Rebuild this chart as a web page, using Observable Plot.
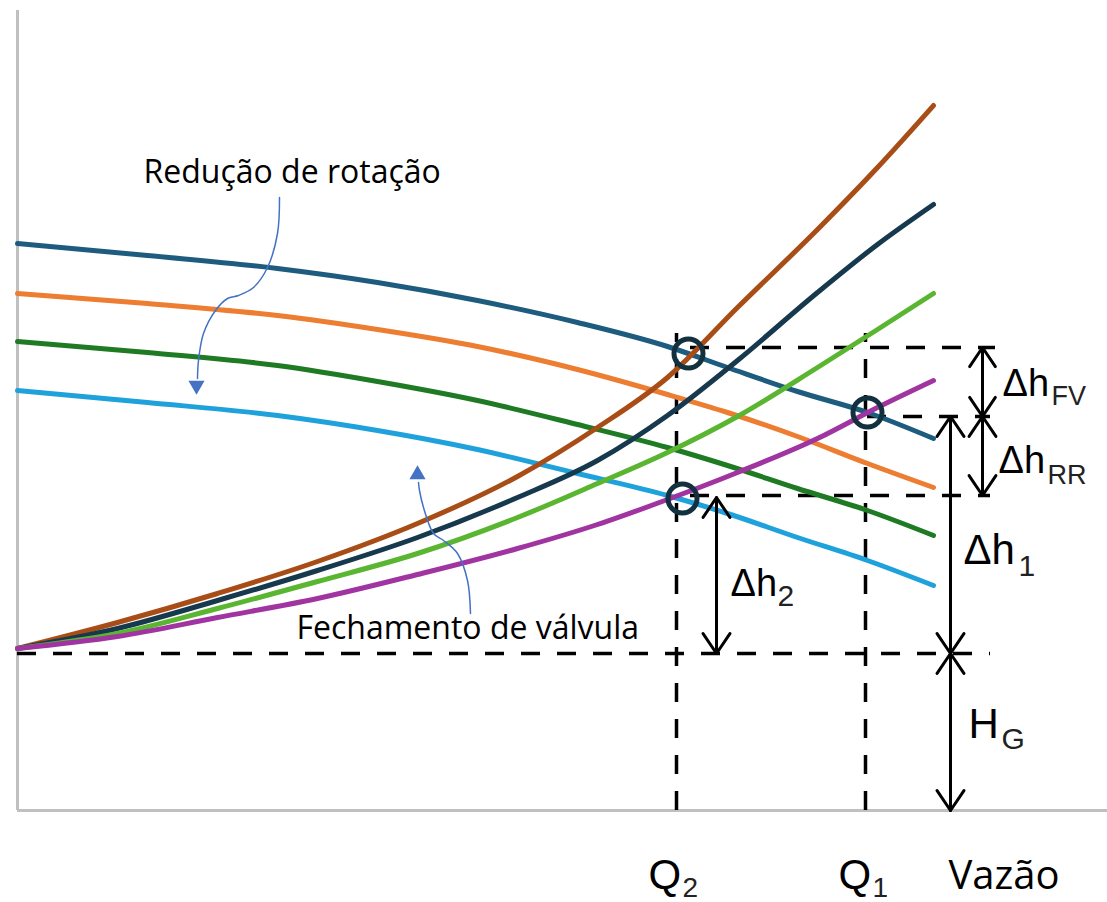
<!DOCTYPE html>
<html><head><meta charset="utf-8">
<script src="https://cdn.jsdelivr.net/npm/d3@7"></script>
<script src="https://cdn.jsdelivr.net/npm/@observablehq/plot@0.6"></script>
<style>
html,body{margin:0;padding:0;background:#fff;}
#chart svg{display:block;}
</style></head><body><div id="chart"></div>
<script>
// ---- pump curves (head vs flow)
const pumpQ      = [0, 13, 26, 36, 46, 56, 65, 71, 78, 85, 91.6];
const pumpTeal   = [56.7, 55.5, 54.2, 52.8, 51.0, 48.8, 46.4, 44.3, 41.9, 39.8, 37.2];
const pumpOrange = [51.7, 50.7, 49.5, 48.1, 46.4, 44.1, 41.6, 39.8, 37.4, 34.7, 32.3];
const pumpGreen  = [46.9, 45.8, 44.5, 42.9, 41.0, 38.6, 36.3, 34.5, 32.2, 30.0, 27.5];
const pumpBlue   = [42.0, 40.8, 39.5, 38.0, 36.1, 33.7, 31.5, 29.7, 27.3, 25.0, 22.5];
// ---- system curves
const sysQ       = [0, 10, 20, 30, 40, 50, 58, 65, 72, 80, 86, 91.6];
const sysBrown   = [16.2, 18.8, 21.7, 24.9, 28.7, 33.4, 38.3, 43.3, 50.3, 58.1, 64.3, 70.5];
const sysNavy    = [16.2, 18.2, 21.0, 24.0, 27.3, 31.3, 35.0, 39.5, 45.0, 51.8, 56.6, 60.6];
const sysGreen   = [16.2, 17.7, 20.2, 22.9, 25.7, 29.3, 32.7, 35.8, 39.4, 44.3, 48.1, 51.7];
const sysMagenta = [16.2, 17.4, 19.3, 21.2, 23.6, 26.2, 28.6, 31.1, 33.8, 37.2, 40.3, 43.0];
// ---- operating points
const opQ = [67.1, 85.0, 66.5];
const opH = [45.7, 39.8, 31.2];
// ---- reference flows and heads
const Q2 = 65.9, Q1 = 84.8;
const hTop = 46.3, hMid = 39.4, hLow = 31.5, HG = 15.7, hDashTop = 47.7;
// ---- dimension arrows
const dimQ  = [96.5, 96.5, 93.3, 93.3, 69.9];
const dimH1 = [46.3, 39.4, 39.4, 15.7, 31.3];
const dimH2 = [39.4, 31.5, 15.7, 0, 15.7];
// ---- annotation connector paths
const rotQ = [26.2, 26.0, 25.0, 23.6, 22.1, 21.0, 19.8, 18.6, 18.1, 18.0];
const rotH = [61.3, 57.7, 54.3, 52.3, 51.5, 51.2, 50.0, 47.7, 45.0, 43.2];
const valQ = [45.3, 45.0, 44.0, 42.6, 41.6, 40.6, 40.2, 40.1];
const valH = [19.7, 23.0, 25.7, 27.0, 27.7, 30.3, 32.0, 32.8];
// ---- labels
const deltaText = ["Δh", "Δh", "Δh", "Δh"];
const deltaQ = [98.5, 98.1, 94.6, 71.3];
const deltaH = [41.5, 33.8, 24.7, 21.5];
const subText = ["FV", "RR", "1", "2"];
const subQ = [103.4, 103.0, 100.1, 76.0];
const subH = [40.6, 32.7, 23.5, 20.5];
const axisLetters = ["H", "Q", "Q"];
const axisLetterQ = [95.1, 63.1, 82.1];
const axisLetterH = [7.3, -7.8, -7.8];
const axisSubs = ["G", "2", "1"];
const axisSubQ = [98.4, 66.5, 85.5];
const axisSubH = [6.2, -8.6, -8.6];
const noteText = ["Redução de rotação", "Fechamento de válvula", "Vazão"];
const noteQ = [12.6, 27.9, 93.1];
const noteH = [62.8, 17.2, -7.8];

const pumpSeries = [["teal", pumpTeal], ["orange", pumpOrange], ["green", pumpGreen], ["blue", pumpBlue]]
  .flatMap(([k, hs]) => hs.map((h, i) => ({k, q: pumpQ[i], h})));
const sysSeries = [["brown", sysBrown], ["navy", sysNavy], ["lgreen", sysGreen], ["magenta", sysMagenta]]
  .flatMap(([k, hs]) => hs.map((h, i) => ({k, q: sysQ[i], h})));
const colors = {teal: "#1d5c7f", orange: "#ed7d31", green: "#1f7a24", blue: "#1fa2dc",
  brown: "#a94d17", navy: "#17394d", lgreen: "#5ab531", magenta: "#a034a0"};
const idx = a => a.map((_, i) => i);
const dash = {stroke: "black", strokeWidth: 3.5, strokeDasharray: "19,17"};

const plot = Plot.plot({
  width: 1107, height: 902,
  marginLeft: 17, marginRight: 0, marginTop: 10, marginBottom: 92,
  x: {domain: [0, 109], axis: null},
  y: {domain: [0, 80], axis: null},
  style: {background: "white", overflow: "visible", fontFamily: "Liberation Sans"},
  marks: [
    Plot.ruleY([0], {stroke: "#c0c0c0", strokeWidth: 3}),
    Plot.ruleX([0], {stroke: "#c0c0c0", strokeWidth: 3}),
    // dashed guides
    Plot.ruleY([HG], {x1: 0, x2: 97.3, ...dash}),
    Plot.ruleY([hTop], {x1: 67.3, x2: 97.8, ...dash}),
    Plot.ruleY([hMid], {x1: 85.0, x2: 97.3, ...dash}),
    Plot.ruleY([hLow], {x1: 67.3, x2: 97.3, ...dash}),
    Plot.ruleX([Q2, Q1], {y1: 0, y2: hDashTop, ...dash}),
    // curves
    Plot.line(pumpSeries, {x: "q", y: "h", z: "k", stroke: d => colors[d.k], strokeWidth: 5, curve: "monotone-x"}),
    Plot.line(sysSeries, {x: "q", y: "h", z: "k", stroke: d => colors[d.k], strokeWidth: 5, curve: "monotone-x"}),
    // operating points
    Plot.dot(idx(opQ), {x: i => opQ[i], y: i => opH[i], r: 14.5, stroke: "#13303f", strokeWidth: 5, fill: "none"}),
    // dimension arrows (double-headed)
    Plot.arrow(idx(dimQ), {x1: i => dimQ[i], x2: i => dimQ[i], y1: i => dimH1[i], y2: i => dimH2[i], stroke: "black", strokeWidth: 3, headLength: 12, headAngle: 68}),
    Plot.arrow(idx(dimQ), {x1: i => dimQ[i], x2: i => dimQ[i], y1: i => dimH2[i], y2: i => dimH1[i], stroke: "black", strokeWidth: 3, headLength: 12, headAngle: 68}),
    // annotation connectors
    Plot.line(idx(rotQ), {x: i => rotQ[i], y: i => rotH[i], stroke: "#4472c4", strokeWidth: 1.5, curve: "catmull-rom"}),
    Plot.line(idx(valQ), {x: i => valQ[i], y: i => valH[i], stroke: "#4472c4", strokeWidth: 1.5, curve: "catmull-rom"}),
    Plot.dot([0], {x: 17.9, y: 42.5, symbol: "triangle", r: 6, fill: "#4472c4", rotate: 180}),
    Plot.dot([0], {x: 40.0, y: 33.6, symbol: "triangle", r: 6, fill: "#4472c4"}),
    // labels
    Plot.text(idx(deltaText), {x: i => deltaQ[i], y: i => deltaH[i], text: i => deltaText[i], textAnchor: "start", lineAnchor: "bottom", fontSize: i => i === 2 ? 42 : 38, fill: "black", fontFamily: "Liberation Sans"}),
    Plot.text(idx(subText), {x: i => subQ[i], y: i => subH[i], text: i => subText[i], textAnchor: "start", lineAnchor: "bottom", fontSize: i => i < 2 ? 27 : 30, fill: "#222", fontFamily: "Liberation Sans"}),
    Plot.text(idx(axisLetters), {x: i => axisLetterQ[i], y: i => axisLetterH[i], text: i => axisLetters[i], textAnchor: "start", lineAnchor: "bottom", fontSize: 42, fill: "black", fontFamily: "Liberation Sans"}),
    Plot.text(idx(axisSubs), {x: i => axisSubQ[i], y: i => axisSubH[i], text: i => axisSubs[i], textAnchor: "start", lineAnchor: "bottom", fontSize: i => i === 0 ? 30 : 28, fill: "#222", fontFamily: "Liberation Sans"}),
    Plot.text(idx(noteText), {x: i => noteQ[i], y: i => noteH[i], text: i => noteText[i], textAnchor: "start", lineAnchor: "bottom", fontSize: i => i === 2 ? 40 : 32, fill: "black", fontFamily: "Open Sans"})
  ]
});
document.getElementById("chart").appendChild(plot);
</script></body></html>
